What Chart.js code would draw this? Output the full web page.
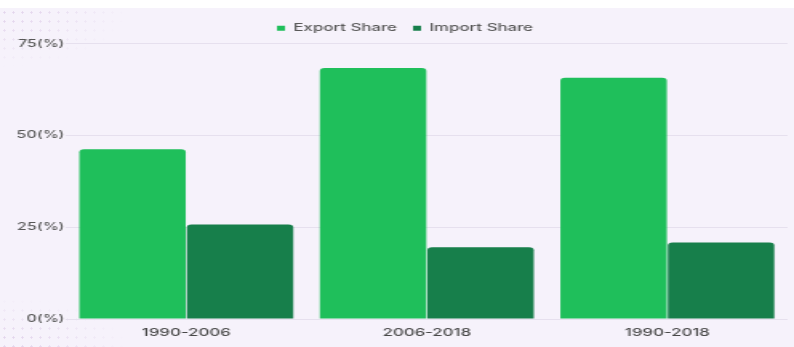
<!DOCTYPE html>
<html>
<head>
<meta charset="utf-8">
<script src="https://cdn.jsdelivr.net/npm/chart.js@4.4.1/dist/chart.umd.min.js"></script>
<style>
  html, body { margin: 0; padding: 0; }
  body {
    width: 794px; height: 347px; overflow: hidden; position: relative;
    background: #f6f2fb;
  }
  /* white strip where the cropped caption sits */
  .top-strip { position: absolute; left: 0; top: 0; width: 794px; height: 8px; background: #fff; }
  /* faint dotted decoration in the left corners */
  .dots {
    position: absolute; left: 0; width: 130px; height: 60px;
    background-image: radial-gradient(circle, rgba(200,170,215,0.4) 0.9px, transparent 1.3px);
    background-size: 9px 9px;
  }
  .dots.tl { top: 8px; -webkit-mask-image: radial-gradient(ellipse at 0 0, #000 15%, transparent 70%); mask-image: radial-gradient(ellipse at 0 0, #000 15%, transparent 70%); }
  .dots.bl { bottom: 0; height: 50px; -webkit-mask-image: radial-gradient(ellipse at 0 100%, #000 15%, transparent 70%); mask-image: radial-gradient(ellipse at 0 100%, #000 15%, transparent 70%); }
  /* the source picture is stretched sideways, so the chart is drawn narrow and widened */
  #wrap {
    position: absolute; left: 0; top: 0; width: 496px; height: 347px;
    transform: scaleX(1.6008); transform-origin: 0 0;
  }
</style>
</head>
<body>
<div class="top-strip"></div>
<div class="dots tl"></div>
<div class="dots bl"></div>
<div id="wrap"><canvas id="chart" width="496" height="347"></canvas></div>

<script>
// ── Data ──
const periods = ['1990-2006', '2006-2018', '1990-2018'];
const exportShare = [46.2, 68.3, 65.7];
const importShare = [25.7, 19.5, 20.8];
const yTicks = [0, 25, 50, 75];

const COLORS = {
  exportGreen: '#1fbf5b',
  importGreen: '#177f4b',
  text: '#585858',
  grid: '#e6e0ee',
};

Chart.defaults.font.family = "Inter, 'Open Sans', sans-serif";
Chart.defaults.font.weight = 500;
Chart.defaults.color = COLORS.text;

// legend in the source sits a little right of the page centre
const legendShift = {
  id: 'legendShift',
  afterLayout(chart) {
    chart.legend.left += 7;
    chart.legend.right += 7;
  }
};

const ctx = document.getElementById('chart').getContext('2d');

new Chart(ctx, {
  type: 'bar',
  data: {
    labels: periods,
    datasets: [
      {
        label: 'Export Share',
        data: exportShare,
        backgroundColor: COLORS.exportGreen,
        borderRadius: { topLeft: 3, topRight: 3 },
        borderSkipped: false,
      },
      {
        label: 'Import Share',
        data: importShare,
        backgroundColor: COLORS.importGreen,
        borderRadius: { topLeft: 3, topRight: 3 },
        borderSkipped: false,
      }
    ]
  },
  plugins: [legendShift],
  options: {
    responsive: false,
    animation: false,
    devicePixelRatio: 1,
    layout: { padding: { top: 13, right: 4, left: 0, bottom: 0 } },
    datasets: {
      bar: { categoryPercentage: 0.894, barPercentage: 0.99 }
    },
    plugins: {
      legend: {
        position: 'top',
        labels: {
          boxWidth: 5,
          boxHeight: 5,
          padding: 10,
          color: COLORS.text,
          font: { size: 10.5, weight: 500 },
        }
      },
      tooltip: { enabled: false }
    },
    scales: {
      x: {
        grid: { display: false },
        border: { display: false },
        ticks: { color: '#484848', font: { size: 10.5, weight: 500 }, padding: 0 },
        afterFit(scale) { scale.height = 28; }
      },
      y: {
        min: 0,
        max: 75,
        afterBuildTicks(scale) { scale.ticks = yTicks.map(v => ({ value: v })); },
        grid: { color: COLORS.grid, drawTicks: false },
        border: { display: false },
        ticks: {
          color: COLORS.text,
          font: { size: 10, weight: 500 },
          padding: 1,
          callback: v => v + '(%)'
        },
        afterFit(scale) { scale.width = 41.25; }
      }
    }
  }
});
</script>
</body>
</html>
